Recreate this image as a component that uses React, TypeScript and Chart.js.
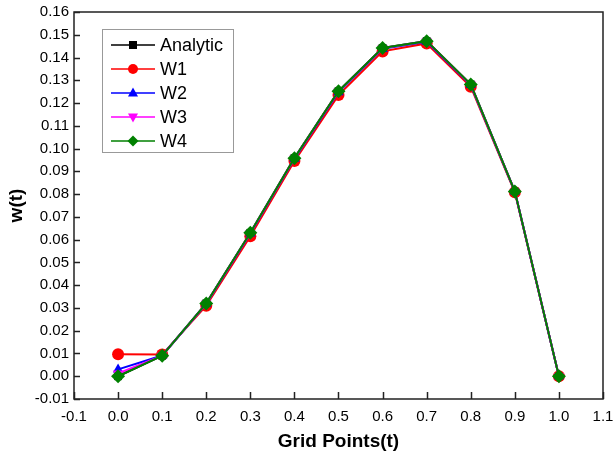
import React, { useEffect, useRef } from "react";
import { Chart, registerables } from "chart.js";

Chart.register(...registerables);

const gridPoints = [0.0, 0.1, 0.2, 0.3, 0.4, 0.5, 0.6, 0.7, 0.8, 0.9, 1.0];
const analytic = [0.0, 0.009, 0.032, 0.063, 0.0958, 0.1252, 0.1442, 0.1472, 0.1282, 0.0812, 0.0];
const w1 = [0.0097, 0.0095, 0.031, 0.0615, 0.0945, 0.1235, 0.1427, 0.1462, 0.1272, 0.0808, 0.0];
const w2 = [0.003, 0.0091, 0.0318, 0.0627, 0.0955, 0.1248, 0.1438, 0.1469, 0.1279, 0.0811, 0.0];
const w3 = [0.0012, 0.009, 0.0319, 0.0629, 0.0957, 0.1251, 0.1441, 0.1471, 0.1281, 0.0812, 0.0];
const w4 = [0.0, 0.009, 0.032, 0.063, 0.0958, 0.1252, 0.1442, 0.1472, 0.1282, 0.0812, 0.0];

const seriesNames = ["Analytic", "W1", "W2", "W3", "W4"];
const seriesValues = [analytic, w1, w2, w3, w4];
const seriesColors = ["#000000", "#ff0000", "#0000ff", "#ff00ff", "#008000"];
const seriesMarkers = ["rect", "circle", "triangle", "triangleDown", "rectRot"];

const yTicks = [-0.01, 0.0, 0.01, 0.02, 0.03, 0.04, 0.05, 0.06, 0.07, 0.08, 0.09, 0.1, 0.11, 0.12, 0.13, 0.14, 0.15, 0.16];
const xTicks = [-0.1, 0.0, 0.1, 0.2, 0.3, 0.4, 0.5, 0.6, 0.7, 0.8, 0.9, 1.0, 1.1];

const FONT = "'Liberation Sans', Arial, sans-serif";

function drawMarker(ctx: CanvasRenderingContext2D, kind: string, x: number, y: number, r: number, color: string) {
  ctx.save();
  ctx.fillStyle = color;
  ctx.beginPath();
  if (kind === "rect") {
    ctx.rect(x - r * 0.8, y - r * 0.8, r * 1.6, r * 1.6);
  } else if (kind === "circle") {
    ctx.arc(x, y, r, 0, Math.PI * 2);
  } else if (kind === "triangle") {
    ctx.moveTo(x, y - r * 1.1);
    ctx.lineTo(x + r, y + r * 0.7);
    ctx.lineTo(x - r, y + r * 0.7);
    ctx.closePath();
  } else if (kind === "triangleDown") {
    ctx.moveTo(x, y + r * 1.1);
    ctx.lineTo(x + r, y - r * 0.7);
    ctx.lineTo(x - r, y - r * 0.7);
    ctx.closePath();
  } else {
    ctx.moveTo(x, y - r * 1.1);
    ctx.lineTo(x + r * 1.1, y);
    ctx.lineTo(x, y + r * 1.1);
    ctx.lineTo(x - r * 1.1, y);
    ctx.closePath();
  }
  ctx.fill();
  ctx.restore();
}

const framePlugin = {
  id: "frameAndLegend",
  afterDatasetsDraw(chart: any) {
    const ctx = chart.ctx as CanvasRenderingContext2D;
    const { left, right, top, bottom } = chart.chartArea;
    const xs = chart.scales.x;
    const ys = chart.scales.y;
    ctx.save();
    ctx.strokeStyle = "#222";
    ctx.lineWidth = 1.5;
    ctx.beginPath();
    ctx.rect(left, top, right - left, bottom - top);
    ctx.stroke();
    ctx.lineWidth = 1.5;
    ctx.beginPath();
    for (const v of xTicks) {
      const px = Math.round(xs.getPixelForValue(v)) + 0.5;
      ctx.moveTo(px, bottom);
      ctx.lineTo(px, bottom - 7);
    }
    for (const v of yTicks) {
      const py = Math.round(ys.getPixelForValue(v)) + 0.5;
      ctx.moveTo(left, py);
      ctx.lineTo(left + 6, py);
    }
    ctx.stroke();

    // legend
    const bx = 102, by = 29, bw = 131, bh = 123;
    ctx.fillStyle = "#ffffff";
    ctx.fillRect(bx, by, bw, bh);
    ctx.strokeStyle = "#999";
    ctx.lineWidth = 1;
    ctx.strokeRect(bx + 0.5, by + 0.5, bw, bh);
    ctx.font = `18px ${FONT}`;
    ctx.textBaseline = "middle";
    ctx.textAlign = "left";
    seriesNames.forEach((name, i) => {
      const y = 45 + i * 24;
      ctx.strokeStyle = seriesColors[i];
      ctx.lineWidth = 1.5;
      ctx.beginPath();
      ctx.moveTo(111, y);
      ctx.lineTo(155, y);
      ctx.stroke();
      drawMarker(ctx, seriesMarkers[i], 133, y, 5, seriesColors[i]);
      ctx.fillStyle = "#000";
      ctx.fillText(name, 160, y + 1);
    });
    ctx.restore();
  },
};

export default function App() {
  const canvasRef = useRef<HTMLCanvasElement | null>(null);

  useEffect(() => {
    const canvas = canvasRef.current;
    if (!canvas) return;
    const pointStyles: any = {
      rect: "rect",
      circle: "circle",
      triangle: "triangle",
      triangleDown: "triangle",
      rectRot: "rectRot",
    };
    const datasets = seriesNames.map((name, i) => ({
      label: name,
      data: gridPoints.map((x, j) => ({ x, y: seriesValues[i][j] })),
      borderColor: seriesColors[i],
      backgroundColor: seriesColors[i],
      borderWidth: 2,
      pointStyle: pointStyles[seriesMarkers[i]],
      pointRotation: seriesMarkers[i] === "triangleDown" ? 180 : 0,
      pointRadius: seriesMarkers[i] === "rect" ? 5.5 : seriesMarkers[i] === "rectRot" ? 7 : 6,
      pointBorderWidth: 0,
      tension: 0,
      order: seriesNames.length - i,
    }));

    const chart = new Chart(canvas, {
      type: "line",
      data: { datasets },
      options: {
        animation: false,
        responsive: false,
        maintainAspectRatio: false,
        layout: { padding: { left: 0, right: 10, top: 12, bottom: 8 } },
        plugins: { legend: { display: false }, tooltip: { enabled: false } },
        scales: {
          x: {
            type: "linear",
            min: -0.1,
            max: 1.1,
            afterBuildTicks: (scale: any) => {
              scale.ticks = xTicks.map((v) => ({ value: v }));
            },
            afterFit: (scale: any) => {
              scale.height = 54;
              scale.paddingLeft = 0;
              scale.paddingRight = 0;
            },
            grid: { display: false, drawTicks: false },
            border: { display: false },
            ticks: {
              padding: 9,
              color: "#000",
              font: { family: FONT, size: 15 },
              callback: (v: any) => Number(v).toFixed(1),
              maxRotation: 0,
              autoSkip: false,
            },
            title: {
              display: true,
              text: "Grid Points(t)",
              color: "#000",
              font: { family: FONT, size: 19, weight: "bold" },
              padding: { top: 1, bottom: 0 },
            },
          },
          y: {
            type: "linear",
            min: -0.01,
            max: 0.16,
            afterBuildTicks: (scale: any) => {
              scale.ticks = yTicks.map((v) => ({ value: v }));
            },
            afterFit: (scale: any) => {
              scale.width = 74;
              scale.paddingTop = 0;
              scale.paddingBottom = 0;
            },
            grid: { display: false, drawTicks: false },
            border: { display: false },
            ticks: {
              padding: 5,
              color: "#000",
              font: { family: FONT, size: 15 },
              callback: (v: any) => Number(v).toFixed(2),
              autoSkip: false,
            },
            title: {
              display: true,
              text: "w(t)",
              color: "#000",
              font: { family: FONT, size: 19, weight: "bold" },
              padding: { top: 5, bottom: 0 },
            },
          },
        },
      },
      plugins: [framePlugin],
    } as any);
    return () => chart.destroy();
  }, []);

  return (
    <div style={{ position: "fixed", left: 0, top: 0, width: 613, height: 461, background: "#fff" }}>
      <canvas ref={canvasRef} width={613} height={461} style={{ width: 613, height: 461 }} />
    </div>
  );
}
